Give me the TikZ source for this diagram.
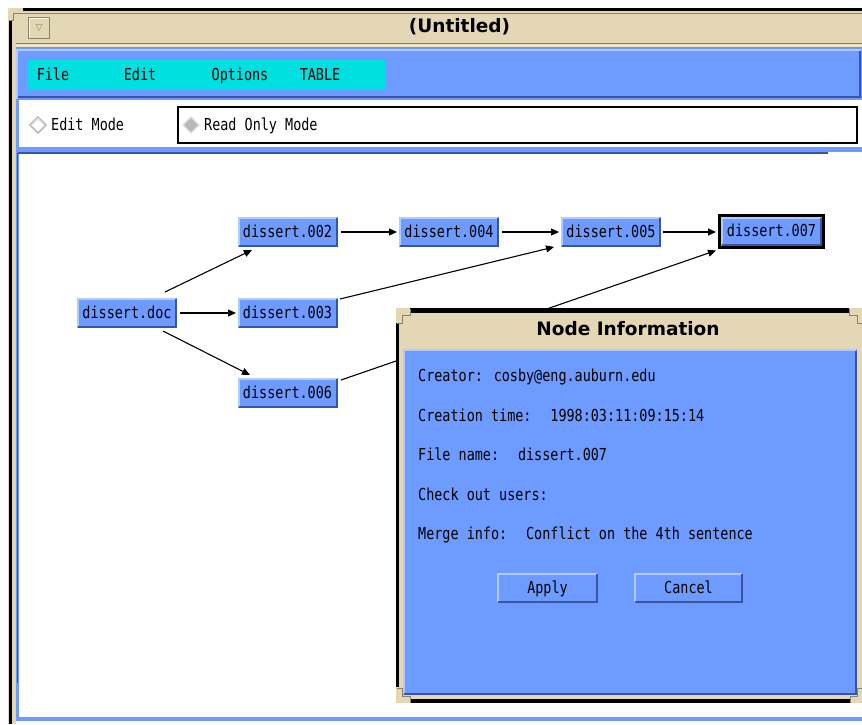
\documentclass[tikz,border=0pt]{standalone}
\usepackage{fontspec}
\setmainfont{DejaVu Sans}
\newfontfamily\uifont[FakeStretch=0.815]{DejaVu Sans Mono}
\usetikzlibrary{arrows.meta}

\definecolor{uiblue}{RGB}{110,155,255}
\definecolor{uilight}{RGB}{178,202,255}
\definecolor{uidark}{RGB}{55,85,160}
\definecolor{framebg}{RGB}{227,215,181}
\definecolor{framedark}{RGB}{140,130,105}
\definecolor{framelight}{RGB}{250,245,230}
\definecolor{menucyan}{RGB}{0,224,224}

\tikzset{
  uitext/.style={font=\uifont\fontsize{16.5}{19}\selectfont, text=black, inner sep=0pt,
                 text height=13.5pt, text depth=2pt},
  vnode/.style={uitext, rectangle, fill=uiblue, minimum width=100pt, minimum height=30pt, outer sep=0pt},
  current/.style={vnode, draw=black, line width=3pt, minimum width=104pt, minimum height=32pt},
  link/.style={line width=1.1pt, -{Triangle[length=8pt,width=7pt]}},
  winbtn/.style={uitext, fill=uiblue, minimum width=101pt, minimum height=30pt, outer sep=0pt},
  wintitle/.style={font=\bfseries\fontsize{18.5}{22}\selectfont, inner sep=0pt},
}

% raised 3D edge around node #1, drawn #2 inside its border
\newcommand{\bevelbox}[2]{%
  \draw[uilight,line width=2pt] ([shift={(#2,#2)}]#1.south west) |- ([shift={(-#2,-#2)}]#1.north east);
  \draw[uidark,line width=2pt] ([shift={(-#2,-#2)}]#1.north east) |- ([shift={(#2,#2)}]#1.south west);
}

\begin{document}
\begin{tikzpicture}[x=1pt,y=-1pt]
\useasboundingbox (0,0) rectangle (862,724);
\fill[white] (0,0) rectangle (862,724);

% ---- main window frame and title bar
\fill[framebg] (8,8) rectangle (862,47);
\fill[framebg] (8,8) rectangle (16,724);
\fill[black] (9,20) rectangle (12,724);
\fill[black] (23,8) rectangle (862,11);
\draw[framedark,line width=0.7pt] (8.5,20) -- (13,20) -- (13,13) -- (862,13);
\draw[framedark,line width=0.8pt] (16,43.5) -- (862,43.5);
\draw[framelight,line width=0.8pt] (16,45) -- (862,45);
\node[draw=framedark, fill=framebg, line width=0.8pt, minimum width=21pt, minimum height=21pt,
      inner sep=0pt, text=framedark, font=\fontsize{9}{10}\selectfont] (winmenu) at (39,28) {▽};
\draw[framelight,line width=1pt] ([shift={(1pt,1pt)}]winmenu.south west) |- ([shift={(-1pt,-1pt)}]winmenu.north east);
\node[wintitle] (wintitle) at (459.5,27) {(Untitled)};

% ---- menu bar
\fill[uiblue] (16,47) rectangle (862,100);
\draw[uilight,line width=2pt] (17,99) |- (861,50);
\draw[uidark,line width=2pt] (860,51) |- (18,97);
\fill[menucyan] (27,60) rectangle (385,90);
\node[uitext] (mfile) at (53,75) {File};
\node[uitext] (medit) at (140,75) {Edit};
\node[uitext] (mopts) at (240,75) {Options};
\node[uitext] (mtable) at (320,75) {TABLE};

% ---- mode selector bar
\fill[uiblue] (16,100) rectangle (19,721);
\fill[white] (19,100) rectangle (862,147);
\fill[uiblue] (16,147) rectangle (862,152);
\draw[uidark,line width=1.5pt] (18,153) -- (828,153);
\fill[uiblue] (16,717) rectangle (862,721);
\draw[uidark,line width=1pt] (17.5,153) -- (17.5,683);

\draw[gray!55,line width=1.6pt,fill=white] (30,125) -- (38,117) -- (46,125) -- (38,133) -- cycle;
\draw[gray!25,line width=1.2pt] (31.5,125) -- (38,118.5) -- (44.5,125);
\node[uitext,anchor=west] (editmode) at (51,125) {Edit Mode};

\draw[black,line width=2pt] (178,107) rectangle (857,143);
\draw[gray!25,line width=1.4pt,fill=gray!55] (183,125) -- (191,117) -- (199,125) -- (191,133) -- cycle;
\node[uitext,anchor=west] (readmode) at (204,125) {Read Only Mode};

% ---- version graph
\node[vnode] (doc) at (127,313) {dissert.doc};
\node[vnode] (v002) at (287.5,232) {dissert.002};
\node[vnode] (v003) at (287.5,313) {dissert.003};
\node[vnode] (v006) at (287.5,393) {dissert.006};
\node[vnode] (v004) at (449,232) {dissert.004};
\node[vnode] (v005) at (611,232) {dissert.005};
\node[current] (v007) at (771.5,231) {dissert.007};

\foreach \n in {doc,v002,v003,v006,v004,v005} {\bevelbox{\n}{1pt}}
\bevelbox{v007}{2.5pt}

\draw[link] ([xshift=-12pt,yshift=6pt]doc.north east) -- ([xshift=14.5pt,yshift=-3pt]v002.south west);
\draw[link,shorten <=3pt,shorten >=1.5pt] (doc.east) -- (v003.west);
\draw[link] ([xshift=-14pt,yshift=-3pt]doc.south east) -- ([xshift=12.5pt,yshift=3pt]v006.north west);
\draw[link,shorten <=3.5pt,shorten >=2pt] (v002.east) -- (v004.west);
\draw[link,shorten <=3pt,shorten >=2pt] (v004.east) -- (v005.west);
\draw[link,shorten <=2pt,shorten >=3.5pt] (v005.east) -- (v005.east -| v007.west);
\draw[link] ([xshift=2.5pt,yshift=-1pt]v003.north east) -- ([xshift=-7pt]v005.south west);
\draw[link] ([xshift=3.5pt,yshift=-2pt]v006.north east) -- ([xshift=-3.5pt,yshift=-3.5pt]v007.south west);

% ---- node information dialog
\fill[framebg] (396,308) rectangle (862,703);
\fill[black] (410,308) rectangle (849,312.5);
\fill[black] (395.5,323) rectangle (399,687);
\fill[black] (410,699) rectangle (850,703);
\draw[framedark,line width=0.7pt] (396.5,323) -- (402,323) -- (402,315) -- (410,315) -- (410,308.5);
\draw[framedark,line width=0.7pt] (849,308.5) -- (849,315) -- (857,315) -- (857,323) -- (862,323);
\draw[framedark,line width=0.7pt] (396.5,688) -- (402,688) -- (402,696) -- (410,696) -- (410,703);
\draw[framedark,line width=0.7pt] (850,703) -- (850,696) -- (857,696) -- (857,688) -- (862,688);
\node[wintitle] (dlgtitle) at (628,329) {Node Information};
\fill[uiblue] (403,349) rectangle (857,695);
\draw[uilight,line width=1.5pt] (404,694) |- (856,350);
\draw[uidark,line width=1.5pt] (856,350.5) |- (404,694);

\node[uitext,anchor=west] (creator) at (418,376) {Creator: cosby@eng.auburn.edu};
\node[uitext,anchor=west] (ctime) at (418,416) {Creation time:~ 1998:03:11:09:15:14};
\node[uitext,anchor=west] (fname) at (418,455) {File name:~ dissert.007};
\node[uitext,anchor=west] (users) at (418,495) {Check out users:};
\node[uitext,anchor=west] (merge) at (418,534) {Merge info:~ Conflict on the 4th sentence};

\node[winbtn] (apply) at (547.5,588) {Apply};
\node[winbtn,minimum width=109pt] (cancel) at (688.5,588) {Cancel};
\bevelbox{apply}{1pt}
\bevelbox{cancel}{1pt}
\end{tikzpicture}
\end{document}
